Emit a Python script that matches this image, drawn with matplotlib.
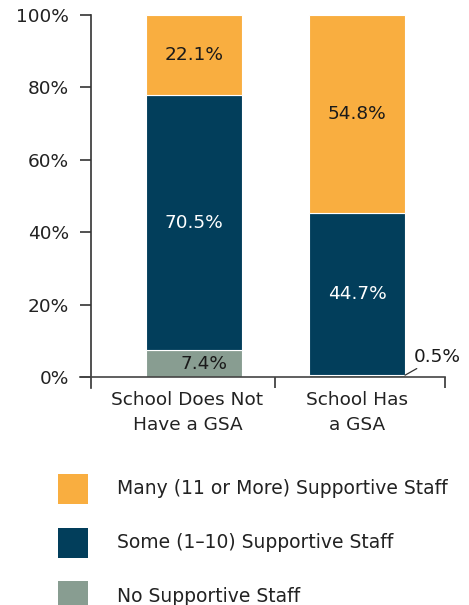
import matplotlib
matplotlib.use("Agg")
import matplotlib.pyplot as plt
from matplotlib.patches import Rectangle
import numpy as np

categories = ["School Does Not\nHave a GSA", "School Has\na GSA"]
no_staff = [7.4, 0.5]
some_staff = [70.5, 44.7]
many_staff = [22.1, 54.8]
series_names = ["Many (11 or More) Supportive Staff",
                "Some (1\u201310) Supportive Staff",
                "No Supportive Staff"]
yticks = [0, 20, 40, 60, 80, 100]
ytick_labels = ["0%", "20%", "40%", "60%", "80%", "100%"]

c_many = "#F9AE40"
c_some = "#023E5B"
c_none = "#889D91"
txt_dark = "#1a1a1a"

plt.rcParams['font.family'] = ['DejaVu Sans']
FS = 13.3
W, H = 469, 605
fig = plt.figure(figsize=(W/100, H/100), dpi=100)
ax = fig.add_axes([91/W, 1-388/H, (445-91)/W, (388-15)/H])

x = np.arange(len(categories))
bw = 0.59
ax.bar(x, no_staff, bw, color=c_none, edgecolor="white", linewidth=0.8)
ax.bar(x, some_staff, bw, bottom=no_staff, color=c_some, edgecolor="white", linewidth=0.8)
b3 = np.array(no_staff) + np.array(some_staff)
ax.bar(x, many_staff, bw, bottom=b3, color=c_many, edgecolor="white", linewidth=0.8)

ax.set_xlim(-0.632, 1.54)
ax.set_ylim(-3.04, 100)
for s in ["top", "right"]:
    ax.spines[s].set_visible(False)
ax.spines["bottom"].set_position(("data", 0))
ax.spines["left"].set_color("#333333")
ax.spines["bottom"].set_color("#444444")
ax.spines["left"].set_linewidth(1.2)
ax.spines["bottom"].set_linewidth(1.2)
ax.set_yticks(yticks)
ax.set_yticklabels(ytick_labels, fontsize=FS, color="#222222")
ax.tick_params(axis="y", length=8, width=1.2, color="#333333", pad=8)
ax.set_xticks([0.5, 1.54])
ax.set_xticklabels([])
ax.tick_params(axis="x", length=8, width=1.2, color="#333333")
ax.spines["bottom"].set_bounds(-0.7, 1.54)

# category labels
for xi, lab in zip(x, categories):
    ax.text(xi - 0.04 if xi == 0 else xi, -4.0, lab, ha="center", va="top",
            fontsize=FS, color="#222222", linespacing=1.45, clip_on=False)

# value labels
for i in range(len(x)):
    segs = [(no_staff[i], 0, txt_dark), (some_staff[i], no_staff[i], "white"),
            (many_staff[i], b3[i], txt_dark)]
    for v, bot, col in segs:
        if v >= 3:
            xo = 0.06 if (col == txt_dark and bot == 0) else 0
            ax.text(x[i] + xo, bot + v/2, f"{v:.1f}%", ha="center", va="center",
                    fontsize=FS, color=col)
        else:
            ax.annotate(f"{v:.1f}%", xy=(x[i] + bw/2, v), xytext=(x[i] + bw/2 + 0.055, v + 2.6),
                        ha="left", va="bottom", fontsize=FS, color=txt_dark,
                        arrowprops=dict(arrowstyle="-", color="#333333", lw=0.9,
                                        shrinkA=0, shrinkB=0))

# legend
leg_colors = [c_many, c_some, c_none]
for k, (name, col) in enumerate(zip(series_names, leg_colors)):
    ytop = 474 + k*53.5
    fig.add_artist(Rectangle((58/W, 1-(ytop+30)/H), 30/W, 30/H, transform=fig.transFigure,
                             facecolor=col, edgecolor="none"))
    fig.text(117/W, 1-(ytop+15)/H, name, ha="left", va="center", fontsize=13.5, color="#222222")

fig.savefig("out.png", dpi=100)
